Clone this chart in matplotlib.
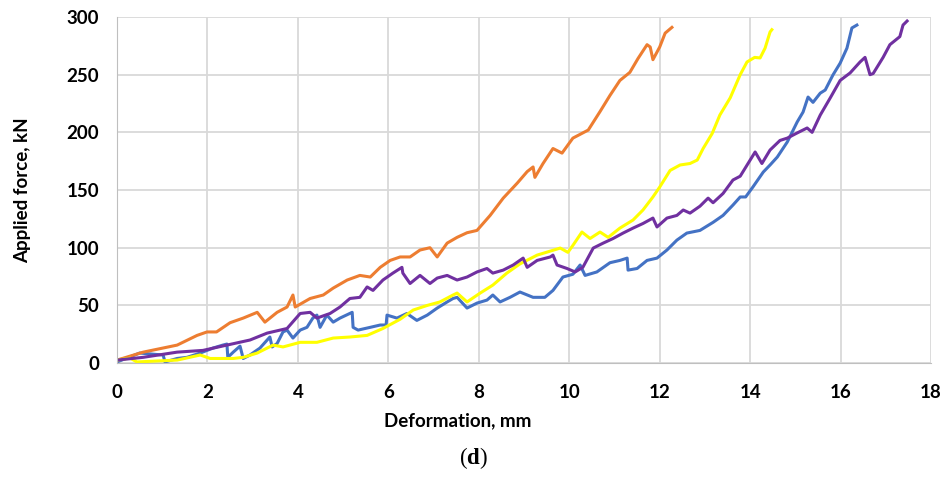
import matplotlib
matplotlib.use("Agg")
import matplotlib.pyplot as plt

# traced curves, deformation (mm) vs applied force (kN)
orange_x = [0, 0.58, 1.33, 1.77, 1.99, 2.2, 2.5, 2.79, 3.1, 3.27, 3.54, 3.76, 3.89, 3.94, 4.27, 4.56,
            4.78, 5.09, 5.37, 5.6, 5.82, 6.04, 6.26, 6.48, 6.7, 6.92, 7.08, 7.3, 7.52, 7.74, 7.96,
            8.25, 8.54, 8.85, 9.07, 9.2, 9.24, 9.42, 9.64, 9.84, 10.08, 10.42, 10.68, 10.9, 11.12,
            11.34, 11.52, 11.72, 11.79, 11.85, 12.0, 12.12, 12.27]
orange_y = [2.6, 9.5, 15.6, 24, 27, 27, 35, 39, 44, 35.5, 44, 48.6, 59, 48.6, 56, 59,
            65, 72, 76, 74.6, 83, 89, 92, 92, 98, 100, 92, 104, 109, 113, 115,
            128, 143, 156, 166, 170, 161, 173, 186, 182, 195, 202, 218, 232, 245,
            252, 264, 276, 274, 263, 274, 286, 291]

yellow_x = [0, 0.29, 0.44, 1.33, 1.84, 2.06, 2.57, 2.79, 3.1, 3.45, 3.67, 4.05, 4.42, 4.78, 5.15,
            5.53, 5.88, 6.26, 6.55, 6.86, 7.14, 7.43, 7.52, 7.74, 8.03, 8.31, 8.62, 8.91, 9.29,
            9.8, 9.97, 10.08, 10.28, 10.46, 10.68, 10.86, 11.12, 11.41, 11.63, 11.85, 12.0, 12.23,
            12.45, 12.67, 12.83, 12.96, 13.16, 13.33, 13.56, 13.78, 13.93, 14.1, 14.22, 14.33,
            14.44, 14.48]
yellow_y = [2.6, 4.3, 1, 2.6, 7, 4, 4, 5, 8.7, 15.6, 14, 18, 18, 21.7, 22.6,
            24, 30, 38, 46, 50, 53, 59, 60.7, 53, 60.7, 67.6, 78, 86, 93.6,
            99.7, 96, 102, 113.6, 108, 113.6, 109, 117, 124, 132.7, 144, 152.6, 167,
            171.7, 173, 176, 186, 199, 215, 230, 250, 261, 265, 264.5, 273,
            287, 289]

blue_x = [0, 0.5, 1.02, 1.06, 1.33, 1.55, 1.84, 2.12, 2.34, 2.43, 2.45, 2.57, 2.72, 2.79, 2.94,
          3.16, 3.32, 3.38, 3.43, 3.54, 3.67, 3.76, 3.89, 4.05, 4.2, 4.33, 4.42, 4.49, 4.64,
          4.78, 4.93, 5.2, 5.22, 5.33, 5.6, 5.82, 5.95, 5.97, 6.19, 6.41, 6.63, 6.86, 7.08,
          7.3, 7.43, 7.52, 7.74, 7.96, 8.18, 8.31, 8.47, 8.69, 8.91, 9.2, 9.46, 9.64, 9.86,
          10.08, 10.24, 10.35, 10.61, 10.9, 11.12, 11.28, 11.3, 11.5, 11.72, 11.94, 12.16,
          12.38, 12.6, 12.89, 13.18, 13.4, 13.62, 13.78, 13.9, 14.06, 14.29, 14.44, 14.6,
          14.82, 15.04, 15.17, 15.28, 15.39, 15.55, 15.66, 15.83, 15.99, 16.14, 16.25, 16.36]
blue_y = [1, 8.7, 7, 1, 4, 5, 8.7, 13, 15.6, 16.5, 5, 9.5, 14.7, 4, 7,
          13, 20, 22.6, 14, 17, 27, 28.6, 21.7, 28.6, 31, 39, 41.6, 31, 41.6,
          35.5, 39, 44, 31, 28.6, 31, 33, 33, 41.6, 39, 43, 37, 41.6, 47.7,
          53, 56, 57, 47.7, 52, 54.6, 59, 53, 57, 61.6, 57, 57, 63, 74.6,
          77, 85, 76, 79, 87, 89, 91, 80.6, 82, 89, 91, 98,
          106.6, 112.7, 115, 122, 128, 137, 144, 144, 152.6, 165.6, 171.7, 178.6,
          191.6, 209, 217.6, 230.6, 226, 234, 236.7, 249.7, 260, 273, 290.5, 293]

purple_x = [0, 0.58, 1.33, 1.9, 2.43, 2.94, 3.32, 3.76, 4.05, 4.27, 4.42, 4.71, 4.93, 5.15, 5.37,
            5.53, 5.66, 5.88, 6.1, 6.3, 6.32, 6.48, 6.7, 6.92, 7.08, 7.3, 7.52, 7.74, 7.96,
            8.18, 8.31, 8.54, 8.76, 8.98, 9.07, 9.29, 9.58, 9.64, 9.73, 9.95, 10.13, 10.3,
            10.53, 10.75, 10.97, 11.19, 11.41, 11.63, 11.85, 11.94, 12.16, 12.38, 12.52, 12.67,
            12.89, 13.07, 13.18, 13.4, 13.62, 13.78, 14.0, 14.11, 14.26, 14.44, 14.66, 14.82,
            15.04, 15.26, 15.37, 15.55, 15.77, 15.99, 16.21, 16.43, 16.54, 16.65, 16.72, 16.94,
            17.09, 17.31, 17.38, 17.47]
purple_y = [2.6, 5, 9.5, 11, 15.6, 20, 26, 30, 43, 44, 39, 43, 48.6, 56, 57,
            66, 63, 72, 78, 83, 78, 69, 76, 69, 73.7, 76, 72, 74.6, 79,
            82, 78, 80.6, 85, 91, 83, 89, 92, 93.6, 85, 82, 79, 83,
            99.7, 104, 108, 112.7, 117, 121, 125.7, 118, 125.7, 128, 132.7, 130,
            136, 143, 139, 147, 158.7, 162, 176, 183, 173, 184.7, 193, 195,
            199.5, 203.8, 200, 215, 229.8, 245, 251.5, 261, 265, 250, 251, 265,
            276, 283, 293, 296.5]

x_ticks = [0, 2, 4, 6, 8, 10, 12, 14, 16, 18]
y_ticks = [0, 50, 100, 150, 200, 250, 300]

font = ['Lato', 'DejaVu Sans']
plt.rcParams['mathtext.fontset'] = 'custom'
plt.rcParams['mathtext.rm'] = 'Liberation Serif'
plt.rcParams['mathtext.bf'] = 'Liberation Serif:bold'

fig = plt.figure(figsize=(9.46, 4.94), dpi=100)
ax = fig.add_axes([0.1237, 0.265, 0.8605, 0.7006])

ax.plot(blue_x, blue_y, color='#4472C4', lw=2.2)
ax.plot(orange_x, orange_y, color='#ED7D31', lw=2.2)
ax.plot(yellow_x, yellow_y, color='#FFFF00', lw=2.2)
ax.plot(purple_x, purple_y, color='#7030A0', lw=2.2)

ax.set_xlim(0, 18)
ax.set_ylim(0, 300)
ax.set_xticks(x_ticks)
ax.set_yticks(y_ticks)
ax.grid(True, color='#d9d9d9', lw=1.3)
ax.set_axisbelow(True)
for s in ['top', 'right']:
    ax.spines[s].set_visible(False)
for s in ['left', 'bottom']:
    ax.spines[s].set_color('#bfbfbf')
ax.tick_params(axis='x', length=0, pad=15)
ax.tick_params(axis='y', length=0, pad=13)
for lab in ax.get_xticklabels() + ax.get_yticklabels():
    lab.set_family(font)
    lab.set_fontweight('bold')
    lab.set_fontsize(13.5)

ax.set_xlabel('Deformation, mm', family=font, fontweight='bold', fontsize=13.5)
ax.set_ylabel('Applied force, kN', family=font, fontweight='bold', fontsize=13.5)
ax.xaxis.set_label_coords(0.418, -0.142)
ax.yaxis.set_label_coords(-0.105, 0.5)

fig.text(0.5, 0.072, r'($\mathbf{d}$)', ha='center', va='center', fontsize=16.5,
         family=['Liberation Serif', 'DejaVu Serif'])

fig.savefig('out.png', dpi=100)
